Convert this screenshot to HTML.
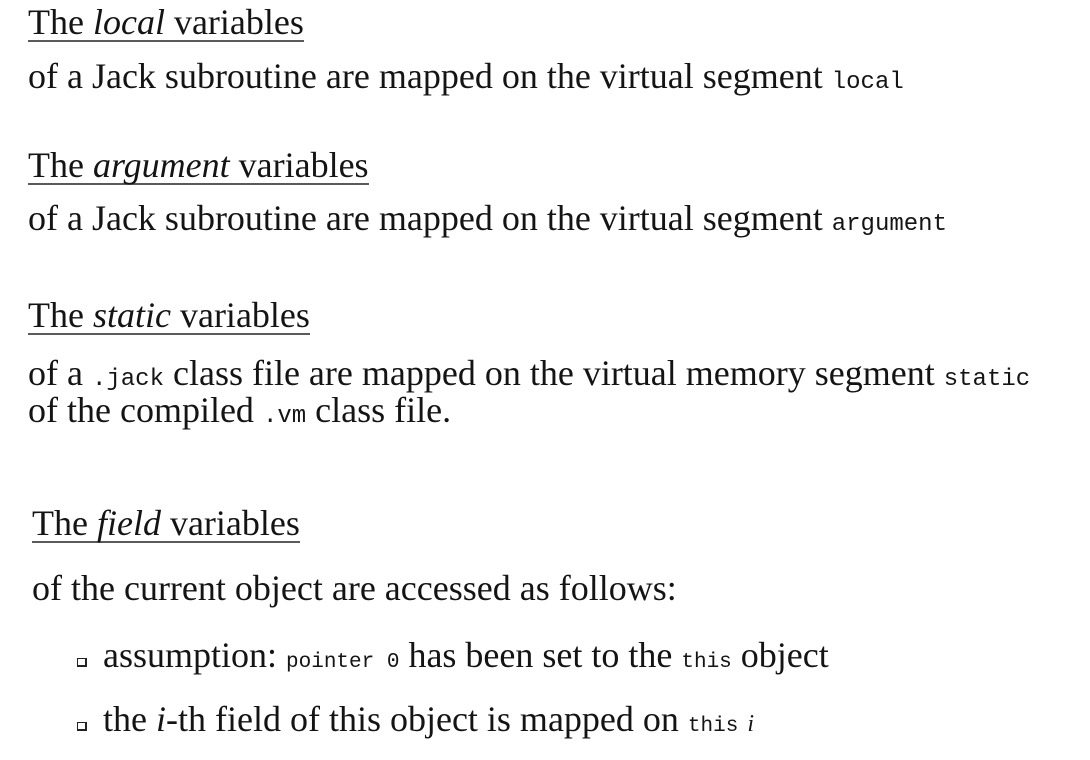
<!DOCTYPE html>
<html>
<head>
<meta charset="utf-8">
<style>
  html, body { margin:0; padding:0; background:#fff; }
  body { width:1090px; height:760px; position:relative; overflow:hidden;
         font-family:"Liberation Serif", serif; font-size:36px; color:#141414; }
  .l { position:absolute; white-space:nowrap; line-height:40px; height:40px; }
  .h { height:38px; border-bottom:2px solid #5a5a5a; }
  .m { font-family:"Liberation Mono", monospace; font-size:24px; }
  .s { font-family:"Liberation Mono", monospace; font-size:21px; }
  .b { position:absolute; width:7px; height:6px; border:1px solid #222;
       border-right-width:2px; border-bottom-width:2px; }
</style>
</head>
<body>
<div class="l h" style="left:28px; top:2px;">The <i>local</i> variables</div>
<div class="l" style="left:28px; top:56px;">of a Jack subroutine are mapped on the virtual segment <span class="m">local</span></div>

<div class="l h" style="left:28px; top:145px;">The <i>argument</i> variables</div>
<div class="l" style="left:28px; top:198px;">of a Jack subroutine are mapped on the virtual segment <span class="m">argument</span></div>

<div class="l h" style="left:28px; top:295px;">The <i>static</i> variables</div>
<div class="l" style="left:28px; top:353px;">of a <span class="m">.jack</span> class file are mapped on the virtual memory segment <span class="m">static</span></div>
<div class="l" style="left:28px; top:390px;">of the compiled <span class="m">.vm</span> class file.</div>

<div class="l h" style="left:32px; top:503px;">The <i>field</i> variables</div>
<div class="l" style="left:32px; top:568px;">of the current object are accessed as follows:</div>

<div class="b" style="left:77px; top:658px;"></div>
<div class="l" style="left:103px; top:635px;">assumption: <span class="s">pointer 0</span> has been set to the <span class="s">this</span> object</div>

<div class="b" style="left:77px; top:722px;"></div>
<div class="l" style="left:103px; top:699px;">the <i>i</i>-th field of this object is mapped on <span class="s">this</span> <i style="font-size:24px;">i</i></div>
</body>
</html>
